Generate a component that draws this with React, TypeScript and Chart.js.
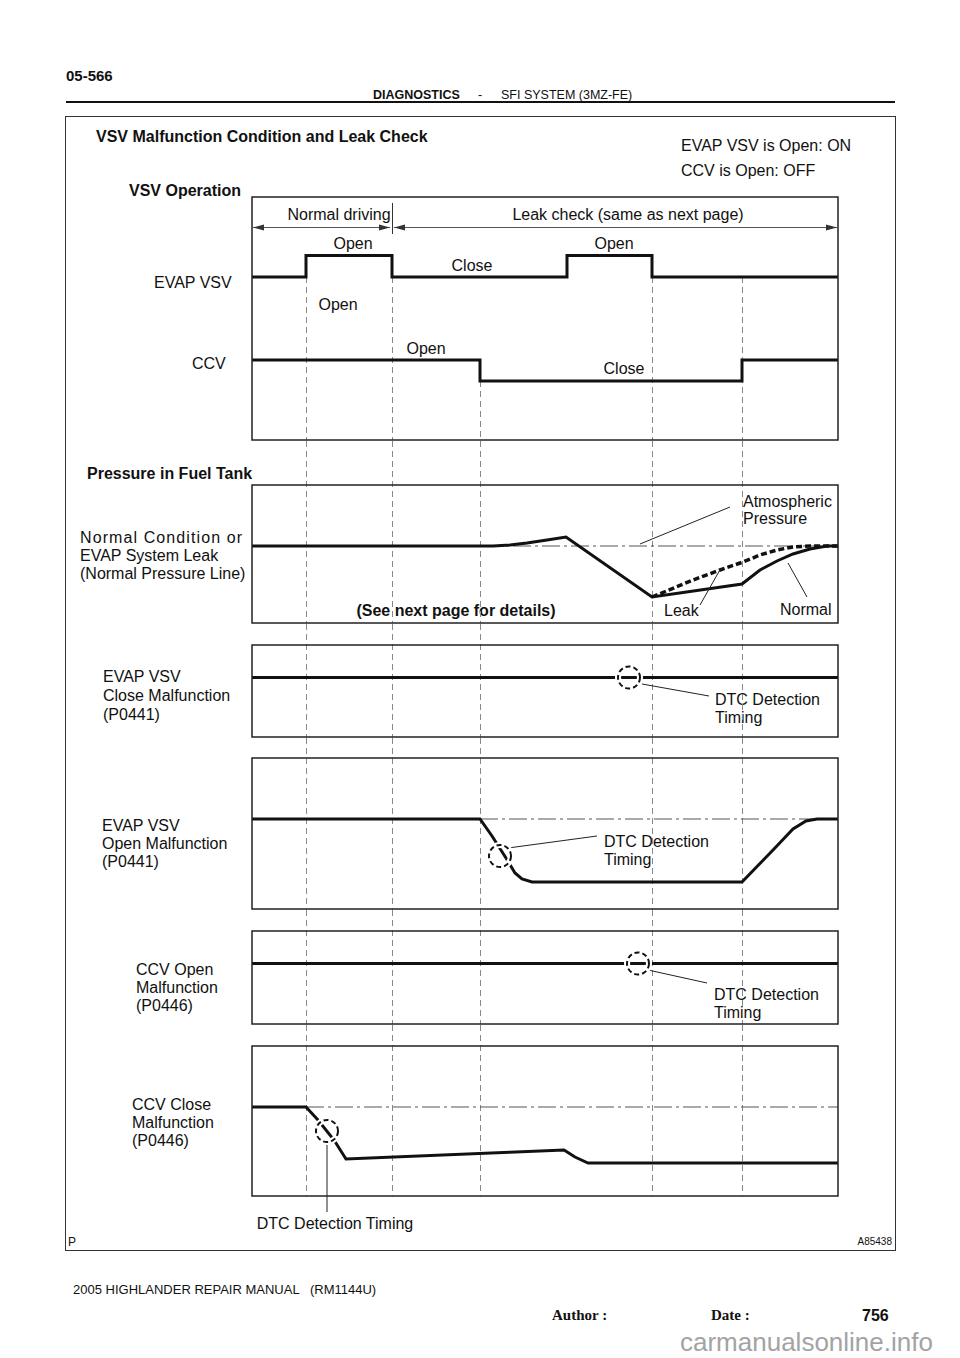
import React, { useEffect, useRef } from "react";
import { Chart, registerables } from "chart.js";
Chart.register(...registerables);

const FONT = "'Liberation Sans', Arial, Helvetica, sans-serif";
const SERIF = "'Liberation Serif', 'Times New Roman', serif";

// ---------------- DATA ----------------
// time axis (arbitrary units) spanning each timing box
const TIME_MAX = 586;
// vertical dashed guide lines (event times)
const guideTimes = [54, 140, 228, 400, 490];

// VSV operation: 1 = open, 0 = close
const evapVsvTimes = [0, 54, 140, 315, 400, 586];
const evapVsvOpen = [0, 1, 0, 1, 0, 0];
const ccvTimes = [0, 228, 490, 586];
const ccvOpen = [1, 0, 1, 1];

// Pressure in fuel tank, relative to atmospheric (arbitrary units)
const normalTimes = [0, 241, 258, 275, 295, 314, 400, 490, 508, 525, 541, 558, 575, 586];
const normalPressure = [0, 0, 1, 3, 6, 9, -51, -38, -24, -15, -8, -3, 0, 0];
const leakTimes = [400, 441, 468, 491, 508, 525, 541, 558, 586];
const leakPressure = [-51, -34, -24, -16, -9, -4, -1, 0, 0];
const atmosphericTimes = [0, 586];
const atmosphericPressure = [0, 0];

// EVAP VSV close malfunction (P0441)
const closeMalfTimes = [0, 586];
const closeMalfPressure = [0, 0];
const closeMalfDetect = { t: 377, v: 0 };

// EVAP VSV open malfunction (P0441)
const openMalfTimes = [0, 228, 240, 254, 263, 270, 280, 490, 522, 541, 554, 565, 586];
const openMalfPressure = [0, 0, -17, -39, -54, -60, -63, -63, -30, -10, -2, 0, 0];
const openMalfRefTimes = [228, 586];
const openMalfDetect = { t: 248, v: -37 };

// CCV open malfunction (P0446)
const ccvOpenMalfTimes = [0, 586];
const ccvOpenMalfPressure = [0, 0];
const ccvOpenMalfDetect = { t: 386, v: 0 };

// CCV close malfunction (P0446)
const ccvCloseMalfTimes = [0, 54, 66, 82, 94, 312, 323, 336, 586];
const ccvCloseMalfPressure = [0, 0, -13, -33, -52, -43, -50, -56, -56];
const ccvCloseMalfRefTimes = [54, 586];
const ccvCloseMalfDetect = { t: 75, v: -24 };

// ---------------- HELPERS ----------------
const pts = (xs: number[], ys: number[]) => xs.map((x, i) => ({ x, y: ys[i] }));
const axisRange = (zeroPx: number, unitPx: number, top: number, bottom: number) => ({
  type: "linear",
  display: false,
  bounds: "data",
  grace: 0,
  min: -(bottom - zeroPx) / unitPx,
  max: (zeroPx - top) / unitPx,
});
const thick = (data: any[], yAxisID: string, extra: any = {}) => ({
  data,
  yAxisID,
  borderColor: "#111",
  borderWidth: 3,
  pointRadius: 0,
  fill: false,
  tension: 0,
  order: 0,
  borderJoinStyle: "miter",
  ...extra,
});
const refLine = (data: any[], yAxisID: string) => ({
  data,
  yAxisID,
  borderColor: "#555",
  borderWidth: 1,
  borderDash: [18, 4, 3, 4],
  pointRadius: 0,
  fill: false,
  tension: 0,
  order: 2,
});

function drawCircle(ctx: CanvasRenderingContext2D, cx: number, cy: number) {
  ctx.save();
  ctx.setLineDash([]);
  ctx.strokeStyle = "#fff";
  ctx.lineWidth = 6;
  ctx.beginPath();
  ctx.arc(cx, cy, 11, 0, Math.PI * 2);
  ctx.stroke();
  ctx.setLineDash([5, 3]);
  ctx.strokeStyle = "#111";
  ctx.lineWidth = 2;
  ctx.beginPath();
  ctx.arc(cx, cy, 11, 0, Math.PI * 2);
  ctx.stroke();
  ctx.restore();
}

function drawLine(ctx: CanvasRenderingContext2D, x1: number, y1: number, x2: number, y2: number, w = 1, color = "#222") {
  ctx.save();
  ctx.setLineDash([]);
  ctx.strokeStyle = color;
  ctx.lineWidth = w;
  ctx.beginPath();
  ctx.moveTo(x1, y1);
  ctx.lineTo(x2, y2);
  ctx.stroke();
  ctx.restore();
}

function arrowHead(ctx: CanvasRenderingContext2D, x: number, y: number, dir: number) {
  ctx.save();
  ctx.fillStyle = "#333";
  ctx.beginPath();
  ctx.moveTo(x, y);
  ctx.lineTo(x - dir * 11, y - 3);
  ctx.lineTo(x - dir * 11, y + 3);
  ctx.closePath();
  ctx.fill();
  ctx.restore();
}

type PanelProps = {
  top: number;
  bottom: number;
  canvasTop: number;
  canvasBottom: number;
  datasets: any[];
  yScales: any;
  guideFrom?: (chart: any) => number[];
  circles?: { t: number; v: number; axis: string }[];
  leaders?: number[][];
  extra?: (ctx: CanvasRenderingContext2D, chart: any, Y: (p: number) => number) => void;
};

function Panel(props: PanelProps) {
  const ref = useRef<HTMLCanvasElement>(null);
  const h = props.canvasBottom - props.canvasTop;
  useEffect(() => {
    const Y = (p: number) => p - props.canvasTop;
    const chart = new Chart(ref.current as HTMLCanvasElement, {
      type: "line",
      data: { datasets: props.datasets },
      options: {
        animation: false,
        responsive: false,
        maintainAspectRatio: false,
        events: [],
        layout: {
          padding: {
            left: 252,
            right: 122,
            top: props.top - props.canvasTop,
            bottom: props.canvasBottom - props.bottom,
          },
        },
        plugins: { legend: { display: false }, tooltip: { enabled: false }, title: { display: false } },
        scales: {
          x: { type: "linear", display: false, bounds: "data", min: 0, max: TIME_MAX },
          ...props.yScales,
        },
      } as any,
      plugins: [
        {
          id: "panelDecor",
          beforeDatasetsDraw(c: any) {
            const ctx = c.ctx as CanvasRenderingContext2D;
            const area = c.chartArea;
            const xs = c.scales.x;
            const starts = props.guideFrom ? props.guideFrom(c) : guideTimes.map(() => 0);
            ctx.save();
            ctx.strokeStyle = "#888";
            ctx.lineWidth = 1;
            ctx.setLineDash([6, 4]);
            guideTimes.forEach((t, i) => {
              const x = Math.round(xs.getPixelForValue(t)) + 0.5;
              ctx.beginPath();
              ctx.moveTo(x, starts[i]);
              ctx.lineTo(x, area.bottom);
              ctx.stroke();
            });
            ctx.restore();
          },
          afterDatasetsDraw(c: any) {
            const ctx = c.ctx as CanvasRenderingContext2D;
            const area = c.chartArea;
            ctx.save();
            ctx.setLineDash([]);
            ctx.strokeStyle = "#222";
            ctx.lineWidth = 1.5;
            ctx.strokeRect(area.left, area.top, area.right - area.left, area.bottom - area.top);
            ctx.restore();
            (props.leaders || []).forEach((l) => drawLine(ctx, l[0], Y(l[1]), l[2], Y(l[3])));
            (props.circles || []).forEach((ci) => {
              drawCircle(ctx, c.scales.x.getPixelForValue(ci.t), c.scales[ci.axis].getPixelForValue(ci.v));
            });
            if (props.extra) props.extra(ctx, c, Y);
          },
        },
      ],
    });
    return () => chart.destroy();
  }, []);
  return (
    <canvas
      ref={ref}
      width={960}
      height={h}
      style={{ position: "absolute", left: 0, top: props.canvasTop, width: 960, height: h }}
    />
  );
}

type Lbl = { t: string; x: number; y: number; size?: number; bold?: boolean; align?: string; family?: string; color?: string; ls?: number };

const labels: Lbl[] = [
  // header
  { t: "05-566", x: 66, y: 76, size: 15, bold: true },
  { t: "DIAGNOSTICS", x: 373, y: 95, size: 12.5, bold: true },
  { t: "-", x: 478, y: 95, size: 12.5 },
  { t: "SFI SYSTEM (3MZ-FE)", x: 501, y: 95, size: 12.5 },
  // titles
  { t: "VSV Malfunction Condition and Leak Check", x: 96, y: 136, bold: true },
  { t: "EVAP VSV is Open: ON", x: 681, y: 145 },
  { t: "CCV is Open: OFF", x: 681, y: 170 },
  { t: "VSV Operation", x: 129, y: 190, bold: true },
  // panel 1
  { t: "Normal driving", x: 339, y: 214, align: "center" },
  { t: "Leak check (same as next page)", x: 628, y: 214, align: "center" },
  { t: "Open", x: 353, y: 243, align: "center" },
  { t: "Close", x: 472, y: 265, align: "center" },
  { t: "Open", x: 614, y: 243, align: "center" },
  { t: "Open", x: 338, y: 304, align: "center" },
  { t: "Open", x: 426, y: 348, align: "center" },
  { t: "Close", x: 624, y: 368, align: "center" },
  { t: "EVAP VSV", x: 154, y: 282 },
  { t: "CCV", x: 192, y: 363 },
  // panel 2
  { t: "Pressure in Fuel Tank", x: 87, y: 473, bold: true },
  { t: "Normal Condition or", x: 80, y: 537, ls: 1.1 },
  { t: "EVAP System Leak", x: 80, y: 555 },
  { t: "(Normal Pressure Line)", x: 80, y: 573 },
  { t: "(See next page for details)", x: 456, y: 610, align: "center", bold: true },
  { t: "Atmospheric", x: 743, y: 501 },
  { t: "Pressure", x: 743, y: 518 },
  { t: "Leak", x: 664, y: 610 },
  { t: "Normal", x: 780, y: 609 },
  // panel 3
  { t: "EVAP VSV", x: 103, y: 676 },
  { t: "Close Malfunction", x: 103, y: 695 },
  { t: "(P0441)", x: 103, y: 714 },
  { t: "DTC Detection", x: 715, y: 699 },
  { t: "Timing", x: 715, y: 717 },
  // panel 4
  { t: "EVAP VSV", x: 102, y: 825 },
  { t: "Open Malfunction", x: 102, y: 843 },
  { t: "(P0441)", x: 102, y: 861 },
  { t: "DTC Detection", x: 604, y: 841 },
  { t: "Timing", x: 604, y: 859 },
  // panel 5
  { t: "CCV Open", x: 136, y: 969 },
  { t: "Malfunction", x: 136, y: 987 },
  { t: "(P0446)", x: 136, y: 1005 },
  { t: "DTC Detection", x: 714, y: 994 },
  { t: "Timing", x: 714, y: 1012 },
  // panel 6
  { t: "CCV Close", x: 132, y: 1104 },
  { t: "Malfunction", x: 132, y: 1122 },
  { t: "(P0446)", x: 132, y: 1140 },
  { t: "DTC Detection Timing", x: 335, y: 1223, align: "center" },
  { t: "P", x: 68, y: 1242, size: 12 },
  { t: "A85438", x: 892, y: 1242, size: 10, align: "right" },
  // footer
  { t: "2005 HIGHLANDER REPAIR MANUAL   (RM1144U)", x: 73, y: 1290, size: 13 },
  { t: "Author :", x: 552, y: 1315, size: 15, bold: true, family: SERIF },
  { t: "Date :", x: 711, y: 1315, size: 15, bold: true, family: SERIF },
  { t: "756", x: 862, y: 1315, size: 16, bold: true },
  { t: "carmanualsonline.info", x: 680, y: 1342, size: 26, color: "#a3a3a3" },
];

function Label({ l }: { l: Lbl }) {
  const size = l.size || 16;
  const lh = Math.round(size * 1.2);
  const style: any = {
    position: "absolute",
    left: l.x,
    top: l.y - lh / 2,
    fontSize: size,
    lineHeight: lh + "px",
    fontFamily: l.family || FONT,
    fontWeight: l.bold ? "bold" : "normal",
    color: l.color || "#111",
    whiteSpace: "pre",
    letterSpacing: l.ls ? l.ls + "px" : undefined,
    transform: l.align === "center" ? "translateX(-50%)" : l.align === "right" ? "translateX(-100%)" : undefined,
  };
  return <div style={style}>{l.t}</div>;
}

export default function App() {
  const p1Evap = axisRange(277, 21.5, 197, 440);
  const p1Ccv = axisRange(381, 21, 197, 440);

  return (
    <div
      style={{
        position: "absolute",
        left: 0,
        top: 0,
        width: 960,
        height: 1358,
        background: "#fff",
        overflow: "hidden",
        fontFamily: FONT,
      }}
    >
      {/* header rule */}
      <div style={{ position: "absolute", left: 66, top: 101, width: 829, height: 2, background: "#111" }} />
      {/* frame */}
      <div
        style={{
          position: "absolute",
          left: 65,
          top: 116,
          width: 831,
          height: 1135,
          border: "1.5px solid #333",
          boxSizing: "border-box",
        }}
      />
      {labels.map((l, i) => (
        <Label key={i} l={l} />
      ))}

      {/* VSV operation */}
      <Panel
        top={197}
        bottom={440}
        canvasTop={190}
        canvasBottom={441}
        yScales={{ yEvap: p1Evap, yCcv: p1Ccv }}
        datasets={[
          thick(pts(evapVsvTimes, evapVsvOpen), "yEvap", { stepped: true }),
          thick(pts(ccvTimes, ccvOpen), "yCcv", { stepped: true }),
        ]}
        guideFrom={(c) => {
          const e = c.scales.yEvap.getPixelForValue(0);
          const cc = c.scales.yCcv.getPixelForValue(0);
          return [e, e, cc, e, e];
        }}
        extra={(ctx, c, Y) => {
          const a = c.chartArea;
          const xm = c.scales.x.getPixelForValue(guideTimes[1]);
          const y = Y(227) + 0.5;
          drawLine(ctx, a.left, y, xm - 2, y, 1, "#555");
          drawLine(ctx, xm + 2, y, a.right, y, 1, "#555");
          arrowHead(ctx, a.left + 1, y, -1);
          arrowHead(ctx, xm - 2, y, 1);
          arrowHead(ctx, xm + 2, y, -1);
          arrowHead(ctx, a.right - 1, y, 1);
          drawLine(ctx, Math.round(xm) + 0.5, Y(203), Math.round(xm) + 0.5, Y(234), 1, "#333");
        }}
      />

      {/* Pressure in fuel tank */}
      <Panel
        top={485}
        bottom={623}
        canvasTop={441}
        canvasBottom={624}
        yScales={{ yP: axisRange(546, 1, 485, 623) }}
        datasets={[
          thick(pts(leakTimes, leakPressure), "yP", { borderDash: [6, 3], borderWidth: 3.5 }),
          thick(pts(normalTimes, normalPressure), "yP"),
          refLine(pts(atmosphericTimes, atmosphericPressure), "yP"),
        ]}
        leaders={[
          [730, 507, 640, 544],
          [700, 605, 721, 568],
          [807, 597, 788, 563],
        ]}
      />

      {/* EVAP VSV close malfunction */}
      <Panel
        top={645}
        bottom={737}
        canvasTop={624}
        canvasBottom={738}
        yScales={{ yP: axisRange(677.5, 1, 645, 737) }}
        datasets={[thick(pts(closeMalfTimes, closeMalfPressure), "yP")]}
        circles={[{ ...closeMalfDetect, axis: "yP" }]}
        leaders={[[642, 684, 709, 696]]}
      />

      {/* EVAP VSV open malfunction */}
      <Panel
        top={758}
        bottom={909}
        canvasTop={738}
        canvasBottom={910}
        yScales={{ yP: axisRange(819, 1, 758, 909) }}
        datasets={[
          thick(pts(openMalfTimes, openMalfPressure), "yP"),
          refLine(pts(openMalfRefTimes, [0, 0]), "yP"),
        ]}
        circles={[{ ...openMalfDetect, axis: "yP" }]}
        leaders={[[508, 848, 597, 836]]}
      />

      {/* CCV open malfunction */}
      <Panel
        top={931}
        bottom={1024}
        canvasTop={910}
        canvasBottom={1025}
        yScales={{ yP: axisRange(963.5, 1, 931, 1024) }}
        datasets={[thick(pts(ccvOpenMalfTimes, ccvOpenMalfPressure), "yP")]}
        circles={[{ ...ccvOpenMalfDetect, axis: "yP" }]}
        leaders={[[648, 970, 707, 983]]}
      />

      {/* CCV close malfunction */}
      <Panel
        top={1046}
        bottom={1196}
        canvasTop={1025}
        canvasBottom={1236}
        yScales={{ yP: axisRange(1107, 1, 1046, 1196) }}
        datasets={[
          thick(pts(ccvCloseMalfTimes, ccvCloseMalfPressure), "yP"),
          refLine(pts(ccvCloseMalfRefTimes, [0, 0]), "yP"),
        ]}
        circles={[{ ...ccvCloseMalfDetect, axis: "yP" }]}
        leaders={[[327, 1145, 327, 1212]]}
      />
    </div>
  );
}
